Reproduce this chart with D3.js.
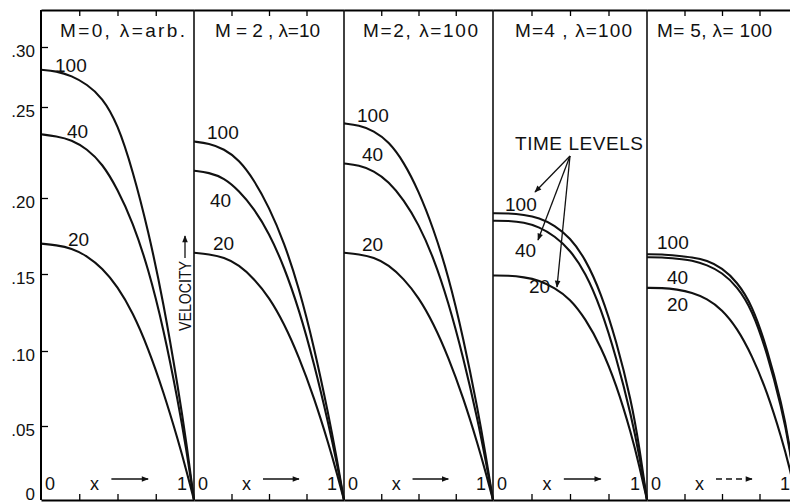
<!DOCTYPE html>
<html>
<head>
<meta charset="utf-8">
<script src="https://cdn.jsdelivr.net/npm/d3@7"></script>
<style>
  html, body { margin: 0; padding: 0; background: #fff; }
  svg { display: block; }
  text { font-family: "Liberation Sans", Arial, sans-serif; fill: #111; }
</style>
</head>
<body>
<svg id="chart" width="790" height="503"></svg>
<script>
// ---------------- data ----------------
const panelTitles = ["M=0, λ=arb.", "M = 2 , λ=10", "M=2, λ=100", "M=4 , λ=100", "M= 5, λ= 100"];
const timeLevels = ["100", "40", "20"];
const xPositions = [0, 0.1, 0.2, 0.3, 0.4, 0.5, 0.6, 0.7, 0.8, 0.9, 0.95, 1];
const yTickValues = [0, 0.05, 0.10, 0.15, 0.20, 0.25, 0.30];
const xTickValues = [0.25, 0.5, 0.75];

// velocity profiles, one array per time level per panel
const m0_t100 = [0.281, 0.280, 0.276, 0.269, 0.258, 0.241, 0.215, 0.179, 0.132, 0.073, 0.039, 0];
const m0_t40  = [0.235, 0.234, 0.232, 0.227, 0.219, 0.205, 0.184, 0.154, 0.115, 0.064, 0.034, 0];
const m0_t20  = [0.170, 0.169, 0.167, 0.162, 0.154, 0.142, 0.125, 0.102, 0.073, 0.039, 0.020, 0];

const m2a_t100 = [0.231, 0.230, 0.227, 0.221, 0.210, 0.194, 0.171, 0.141, 0.103, 0.056, 0.029, 0];
const m2a_t40  = [0.215, 0.214, 0.211, 0.204, 0.193, 0.177, 0.155, 0.127, 0.092, 0.050, 0.026, 0];
const m2a_t20  = [0.164, 0.163, 0.161, 0.156, 0.147, 0.135, 0.118, 0.096, 0.069, 0.037, 0.019, 0];

const m2b_t100 = [0.241, 0.240, 0.237, 0.231, 0.220, 0.204, 0.180, 0.149, 0.109, 0.060, 0.031, 0];
const m2b_t40  = [0.219, 0.218, 0.215, 0.209, 0.199, 0.183, 0.161, 0.132, 0.096, 0.053, 0.027, 0];
const m2b_t20  = [0.164, 0.163, 0.161, 0.156, 0.147, 0.135, 0.118, 0.096, 0.069, 0.037, 0.019, 0];

const m4_t100 = [0.190, 0.190, 0.189, 0.187, 0.182, 0.174, 0.160, 0.138, 0.107, 0.066, 0.036, 0];
const m4_t40  = [0.185, 0.185, 0.184, 0.181, 0.175, 0.166, 0.151, 0.128, 0.096, 0.056, 0.030, 0];
const m4_t20  = [0.149, 0.149, 0.148, 0.146, 0.141, 0.134, 0.121, 0.103, 0.078, 0.044, 0.023, 0];

const m5_t100 = [0.163, 0.163, 0.162, 0.161, 0.159, 0.154, 0.145, 0.130, 0.102, 0.064, 0.038, 0];
const m5_t40  = [0.161, 0.161, 0.160, 0.159, 0.156, 0.151, 0.142, 0.127, 0.099, 0.061, 0.036, 0];
const m5_t20  = [0.141, 0.141, 0.140, 0.138, 0.134, 0.127, 0.115, 0.097, 0.073, 0.041, 0.022, 0];

const panelSeries = [
  [m0_t100, m0_t40, m0_t20],
  [m2a_t100, m2a_t40, m2a_t20],
  [m2b_t100, m2b_t40, m2b_t20],
  [m4_t100, m4_t40, m4_t20],
  [m5_t100, m5_t40, m5_t20]
];

// ---------------- layout ----------------
const svg = d3.select("#chart");
const yTop = 10, yBottom = 500;
const edges = [41, 194, 344, 493, 647, 797];

// the original print has an uneven vertical scale; map tick values to their printed positions
const y = d3.scaleLinear().domain(yTickValues).range([500, 426, 351, 274, 198, 107, 47]);

const defs = svg.append("defs");
defs.append("marker").attr("id", "ah").attr("viewBox", "0 0 10 10")
  .attr("refX", 9).attr("refY", 5).attr("markerWidth", 9).attr("markerHeight", 7)
  .attr("markerUnits", "userSpaceOnUse").attr("orient", "auto")
  .append("path").attr("d", "M0,1 L10,5 L0,9 Z").attr("fill", "#111");

// label placement (baseline positions) per panel: [x, y] for 100, 40, 20
const labelPos = [
  [[55, 72], [67, 138], [68, 246]],
  [[207, 139], [210, 207], [213, 250]],
  [[357, 122], [362, 161], [362, 251]],
  [[505, 211], [515, 257], [529, 293]],
  [[657, 249], [667, 284], [667, 311]]
];
const titleBox = [[60, 185], [215, 320], [363, 478], [515, 632], [657, 772]];

const line = d3.line().curve(d3.curveBasis);

panelSeries.forEach((series, i) => {
  const x = d3.scaleLinear().domain([0, 1]).range([edges[i], edges[i + 1]]);
  const g = svg.append("g");

  g.append("g").attr("transform", `translate(0,${yBottom})`)
    .call(d3.axisBottom(x).tickValues(xTickValues).tickSizeInner(-6).tickSizeOuter(0).tickFormat(""))
    .call(a => a.select(".domain").attr("stroke-width", 2))
    .call(a => a.selectAll(".tick line").attr("stroke-width", 1.3));
  g.append("g").attr("transform", `translate(0,${yTop})`)
    .call(d3.axisTop(x).tickValues(xTickValues).tickSizeInner(-6).tickSizeOuter(0).tickFormat(""))
    .call(a => a.select(".domain").attr("stroke-width", 2))
    .call(a => a.selectAll(".tick line").attr("stroke-width", 1.3));

  g.append("line").attr("x1", x(1)).attr("x2", x(1)).attr("y1", yTop).attr("y2", yBottom)
    .attr("stroke", "#111").attr("stroke-width", 1.6);

  series.forEach(vals => {
    g.append("path")
      .attr("d", line(vals.map((v, k) => [x(xPositions[k]), y(v)])))
      .attr("fill", "none").attr("stroke", "#111").attr("stroke-width", 2.1);
  });

  timeLevels.forEach((t, k) => {
    g.append("text").attr("x", labelPos[i][k][0]).attr("y", labelPos[i][k][1])
      .attr("font-size", 19).text(t);
  });

  g.append("text").attr("x", titleBox[i][0]).attr("y", 37)
    .attr("font-size", 19)
    .attr("textLength", titleBox[i][1] - titleBox[i][0]).attr("lengthAdjust", "spacing")
    .text(panelTitles[i]);

  g.append("text").attr("x", x(0) + 4).attr("y", 490).attr("font-size", 18).text("0");
  g.append("text").attr("x", x(1) - 7).attr("y", 490).attr("text-anchor", "end").attr("font-size", 18).text("1");
  g.append("text").attr("x", x(0.35)).attr("y", 490).attr("text-anchor", "middle").attr("font-size", 18).text("x");
  g.append("line").attr("x1", x(0.46)).attr("x2", x(0.7)).attr("y1", 479).attr("y2", 479)
    .attr("stroke", "#111").attr("stroke-width", 1.4)
    .attr("stroke-dasharray", i === 4 ? "6,4" : null)
    .attr("marker-end", "url(#ah)");
});

// left axis
const yAxis = svg.append("g").attr("transform", `translate(${edges[0]},0)`)
  .call(d3.axisLeft(y).tickValues(yTickValues).tickSizeInner(-7).tickSizeOuter(0).tickPadding(6)
    .tickFormat(d => d === 0 ? "0" : d3.format(".2f")(d).replace(/^0/, "")));
yAxis.select(".domain").attr("stroke-width", 2).attr("d", `M0,${yTop}V${yBottom}`);
yAxis.selectAll(".tick line").attr("stroke-width", 1.3);
yAxis.selectAll(".tick text").attr("font-size", 17).attr("font-family", "Liberation Sans, Arial, sans-serif")
  .attr("fill", "#111").attr("dy", d => d === 0 ? "-0.05em" : "0.55em");
yAxis.selectAll(".tick").filter(d => d === 0).select("line").remove();

// VELOCITY label with upward arrow
svg.append("text").attr("transform", "translate(191,331) rotate(-90)")
  .attr("font-size", 17).attr("textLength", 70).attr("lengthAdjust", "spacingAndGlyphs").text("VELOCITY");
svg.append("line").attr("x1", 185).attr("x2", 185).attr("y1", 258).attr("y2", 236)
  .attr("stroke", "#111").attr("stroke-width", 1.3).attr("marker-end", "url(#ah)");

// TIME LEVELS annotation
svg.append("text").attr("x", 515).attr("y", 150).attr("font-size", 19)
  .attr("textLength", 128).attr("lengthAdjust", "spacing").text("TIME LEVELS");
[[535, 192], [538, 240], [557, 287]].forEach(([tx, ty]) => {
  svg.append("line").attr("x1", 570).attr("y1", 156).attr("x2", tx).attr("y2", ty)
    .attr("stroke", "#111").attr("stroke-width", 1.3).attr("marker-end", "url(#ah)");
});
</script>
</body>
</html>
